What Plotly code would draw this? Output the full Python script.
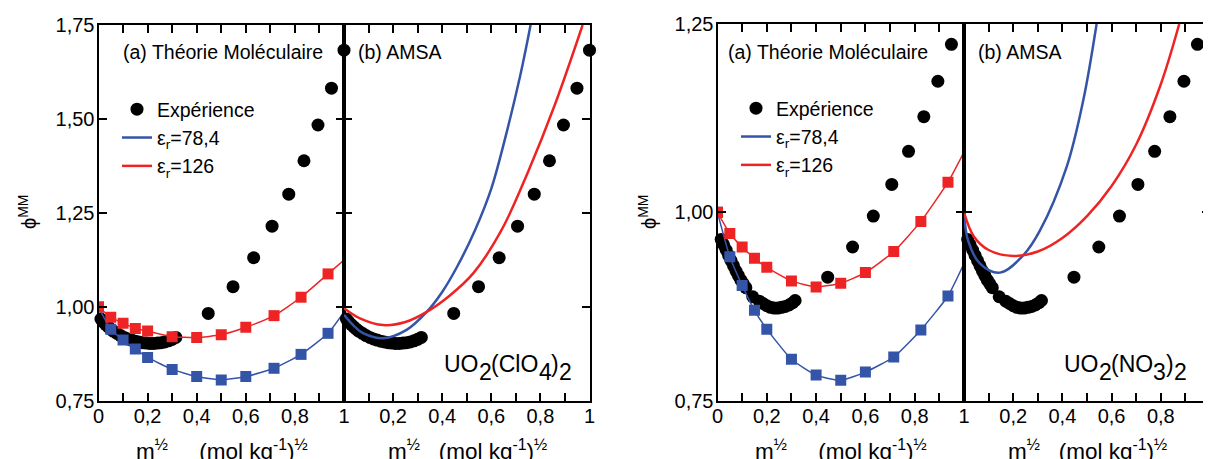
import plotly.graph_objects as go

# ---------------- data ----------------
# UO2(ClO4)2 : experimental osmotic coefficients
clo4_exp_x = [0.010, 0.020, 0.030, 0.040, 0.050, 0.060, 0.075, 0.090, 0.105, 0.120, 0.135,
              0.150, 0.165, 0.180, 0.195, 0.210, 0.225, 0.240, 0.255, 0.270, 0.285, 0.300, 0.315,
              0.447, 0.548, 0.632, 0.707, 0.775, 0.837, 0.894, 0.949, 1.000]
clo4_exp_y = [0.968, 0.960, 0.953, 0.947, 0.941, 0.936, 0.930, 0.924, 0.919, 0.915, 0.912,
              0.909, 0.907, 0.905, 0.904, 0.903, 0.903, 0.904, 0.905, 0.907, 0.910, 0.914, 0.919,
              0.983, 1.054, 1.131, 1.215, 1.300, 1.389, 1.484, 1.582, 1.683]

# molecular theory (squares), same abscissae for both salts
mt_x = [0, 0.05, 0.10, 0.15, 0.20, 0.30, 0.40, 0.50, 0.60, 0.715, 0.825, 0.935]
clo4_mt_784 = [1.000, 0.941, 0.912, 0.888, 0.866, 0.834, 0.815, 0.806, 0.815, 0.837, 0.874, 0.930]
clo4_mt_126 = [1.000, 0.973, 0.957, 0.943, 0.936, 0.921, 0.919, 0.926, 0.946, 0.977, 1.026, 1.088]
# the theory lines continue to the right edge of panel (a)
mt_end_x = 1.0
clo4_mt_784_end = 0.987
clo4_mt_126_end = 1.125

# AMSA curves
clo4_amsa784_x = [0, 0.04, 0.08, 0.16, 0.255, 0.337, 0.40, 0.459, 0.534, 0.60, 0.649, 0.717, 0.76]
clo4_amsa784_y = [0.979, 0.950, 0.930, 0.917, 0.939, 0.987, 1.040, 1.105, 1.205, 1.315, 1.430, 1.613, 1.75]
clo4_amsa126_x = [0, 0.065, 0.16, 0.25, 0.337, 0.43, 0.527, 0.642, 0.75, 0.86, 0.972]
clo4_amsa126_y = [0.997, 0.970, 0.952, 0.960, 0.987, 1.030, 1.090, 1.205, 1.360, 1.540, 1.75]

# UO2(NO3)2
no3_exp_x = [0.015, 0.025, 0.035, 0.045, 0.055, 0.065, 0.075, 0.085, 0.095, 0.105, 0.115,
             0.143, 0.170, 0.185, 0.200, 0.215, 0.230, 0.245, 0.260, 0.275, 0.290, 0.305, 0.315,
             0.447, 0.548, 0.632, 0.707, 0.775, 0.837, 0.894, 0.949]
no3_exp_y = [0.964, 0.957, 0.950, 0.943, 0.936, 0.929, 0.922, 0.916, 0.910, 0.905, 0.900,
             0.888, 0.882, 0.879, 0.876, 0.874, 0.873, 0.873, 0.874, 0.875, 0.877, 0.880, 0.883,
             0.914, 0.954, 0.995, 1.037, 1.081, 1.127, 1.174, 1.223]
no3_mt_784 = [1.000, 0.941, 0.903, 0.870, 0.845, 0.805, 0.784, 0.777, 0.788, 0.808, 0.844, 0.889]
no3_mt_126 = [1.000, 0.972, 0.954, 0.939, 0.927, 0.909, 0.901, 0.906, 0.920, 0.948, 0.988, 1.040]
no3_mt_784_end = 0.932
no3_mt_126_end = 1.080

no3_amsa784_x = [0, 0.017, 0.065, 0.146, 0.241, 0.309, 0.417, 0.485, 0.539]
no3_amsa784_y = [1.000, 0.962, 0.932, 0.920, 0.943, 0.976, 1.060, 1.149, 1.25]
no3_amsa126_x = [0, 0.04, 0.10, 0.20, 0.30, 0.40, 0.50, 0.60, 0.70, 0.80, 0.875]
no3_amsa126_y = [1.000, 0.968, 0.950, 0.942, 0.948, 0.966, 0.995, 1.035, 1.090, 1.170, 1.25]

x_ticks = [i / 10 for i in range(11)]
x_labels_a = ["0", "", "0,2", "", "0,4", "", "0,6", "", "0,8", "", "1"]
x_labels_b = ["", "", "0,2", "", "0,4", "", "0,6", "", "0,8", "", "1"]
y_ticks_clo4 = [0.75, 1.00, 1.25, 1.50, 1.75]
y_labels_clo4 = ["0,75", "1,00", "1,25", "1,50", "1,75"]
y_ticks_no3 = [0.75, 1.00, 1.25]
y_labels_no3 = ["0,75", "1,00", "1,25"]

# ---------------- styling ----------------
# the page body has an 8px margin, so the figure is made 8px smaller and
# every page-pixel position below is converted with that offset
OFF = 8
W, H = 1211 - OFF, 459 - OFF
FONT = "Liberation Sans, Arial, Helvetica, sans-serif"
BLUE = "#3454a8"
RED = "#ee2424"
EXP_SIZE = 13
SQ_SIZE = 11


def px(v):
    return (v - OFF) / W


def py(v):
    return 1 - (v - OFF) / H


fig = go.Figure()


def add_panel_set(xa, ya, xb, yb, ex, ey, mt784, mt126, end784, end126,
                  a784x, a784y, a126x, a126y, legend):
    # panel (a): experiment + molecular theory
    fig.add_trace(go.Scatter(x=ex, y=ey, mode="markers", xaxis=xa, yaxis=ya,
                             marker=dict(color="black", size=EXP_SIZE, symbol="circle", opacity=1),
                             cliponaxis=False, name="Expérience", legend=legend, showlegend=True))
    for vals, end, col in ((mt784, end784, BLUE), (mt126, end126, RED)):
        fig.add_trace(go.Scatter(x=mt_x + [mt_end_x], y=vals + [end], mode="lines",
                                 xaxis=xa, yaxis=ya,
                                 line=dict(color=col, width=1.5, shape="spline", smoothing=0.5),
                                 showlegend=False, legend=legend))
        fig.add_trace(go.Scatter(x=mt_x, y=vals, mode="markers", xaxis=xa, yaxis=ya,
                                 marker=dict(color=col, size=SQ_SIZE, symbol="square", opacity=1,
                                             line=dict(width=0)),
                                 showlegend=False, legend=legend))
    # panel (b): experiment + AMSA
    fig.add_trace(go.Scatter(x=ex, y=ey, mode="markers", xaxis=xb, yaxis=yb,
                             marker=dict(color="black", size=EXP_SIZE, symbol="circle", opacity=1),
                             cliponaxis=False, showlegend=False, legend=legend))
    fig.add_trace(go.Scatter(x=a784x, y=a784y, mode="lines", xaxis=xb, yaxis=yb,
                             line=dict(color=BLUE, width=2.5, shape="spline"),
                             name="ε<sub>r</sub>=78,4", legend=legend, showlegend=True))
    fig.add_trace(go.Scatter(x=a126x, y=a126y, mode="lines", xaxis=xb, yaxis=yb,
                             line=dict(color=RED, width=2.5, shape="spline"),
                             name="ε<sub>r</sub>=126", legend=legend, showlegend=True))


add_panel_set("x", "y", "x2", "y2", clo4_exp_x, clo4_exp_y, clo4_mt_784, clo4_mt_126,
              clo4_mt_784_end, clo4_mt_126_end,
              clo4_amsa784_x, clo4_amsa784_y, clo4_amsa126_x, clo4_amsa126_y, "legend")
add_panel_set("x3", "y3", "x4", "y4", no3_exp_x, no3_exp_y, no3_mt_784, no3_mt_126,
              no3_mt_784_end, no3_mt_126_end,
              no3_amsa784_x, no3_amsa784_y, no3_amsa126_x, no3_amsa126_y, "legend2")

common_axis = dict(showline=True, linewidth=2, linecolor="black", mirror="ticks",
                   ticks="inside", ticklen=8, tickwidth=1.5, tickcolor="black",
                   showgrid=False, zeroline=False, fixedrange=True, automargin=False,
                   tickfont=dict(family=FONT, size=20, color="black"))

xdom = {
    "xaxis": ([px(98.5), px(344)], "y", x_labels_a),
    "xaxis2": ([px(344), px(589.5)], "y2", x_labels_b),
    "xaxis3": ([px(717.5), px(964)], "y3", x_labels_a),
    "xaxis4": ([px(964), px(1210)], "y4", x_labels_b),
}
for name, (dom, anchor, labels) in xdom.items():
    fig.layout[name] = dict(domain=dom, anchor=anchor, range=[0, 1], ticklabelstandoff=-4,
                            tickmode="array", tickvals=x_ticks, ticktext=labels, **common_axis)

ydom_l = [py(401), py(25)]
ydom_r = [py(400.7), py(24)]
fig.layout["yaxis"] = dict(domain=ydom_l, anchor="x", range=[0.75, 1.75], tickmode="array",
                           ticklabelstandoff=-2,
                           tickvals=y_ticks_clo4, ticktext=y_labels_clo4, **common_axis)
fig.layout["yaxis2"] = dict(domain=ydom_l, anchor="x2", range=[0.75, 1.75], tickmode="array",
                            tickvals=y_ticks_clo4, showticklabels=False, **common_axis)
fig.layout["yaxis3"] = dict(domain=ydom_r, anchor="x3", range=[0.75, 1.25], tickmode="array",
                            ticklabelstandoff=-2,
                            tickvals=y_ticks_no3, ticktext=y_labels_no3, **common_axis)
fig.layout["yaxis4"] = dict(domain=ydom_r, anchor="x4", range=[0.75, 1.25], tickmode="array",
                            tickvals=y_ticks_no3, showticklabels=False, **common_axis)

legend_style = dict(bgcolor="rgba(0,0,0,0)", borderwidth=0,
                    font=dict(family=FONT, size=19.5, color="black"),
                    xanchor="left", yanchor="top", tracegroupgap=0, itemsizing="trace")
fig.update_layout(
    legend=dict(x=px(117), y=py(90), **legend_style),
    legend2=dict(x=px(736), y=py(89), **legend_style),
)

ann = []


def text(x, y, s, size=19.5, xanchor="left", angle=0):
    ann.append(dict(x=px(x), y=py(y), xref="paper", yref="paper", text=s, showarrow=False,
                    xanchor=xanchor, yanchor="middle", textangle=angle,
                    font=dict(family=FONT, size=size, color="black")))


text(120.5, 52, "(a) Théorie Moléculaire")
text(356, 52, "(b) AMSA")
text(726, 52, "(a) Théorie Moléculaire")
text(976, 52, "(b) AMSA")

# chemical formulas with full-size, lowered subscripts (Liberation Sans = Arial metrics)
FS = 23
ADV = {"U": 0.722, "O": 0.778, "(": 0.333, ")": 0.333, "C": 0.722, "l": 0.222,
       "N": 0.722, "2": 0.556, "3": 0.556, "4": 0.556}


def formula(x0, y_main, pieces):
    x = x0
    for s, sub in pieces:
        text(x, y_main + (8 if sub else 0), s, size=FS)
        x += sum(ADV[c] for c in s) * FS


formula(442, 364, [("UO", False), ("2", True), ("(ClO", False), ("4", True), (")", False), ("2", True)])
formula(1062, 364, [("UO", False), ("2", True), ("(NO", False), ("3", True), (")", False), ("2", True)])

NB = "\u00a0"
xt_a = "m<sup>½</sup>" + NB * 5 + "(mol kg<sup>-1</sup>)<sup>½</sup>"
xt_b = "m<sup>½</sup>" + NB * 3 + "(mol kg<sup>-1</sup>)<sup>½</sup>"
XT = 22.5
text(222, 450, xt_a, size=XT, xanchor="center")
text(467, 450, xt_b, size=XT, xanchor="center")
text(841, 450, xt_a, size=XT, xanchor="center")
text(1087, 450, xt_b, size=XT, xanchor="center")

text(27, 212, "ϕ<sup>MM</sup>", size=20, xanchor="center", angle=-90)
text(647, 212, "ϕ<sup>MM</sup>", size=20, xanchor="center", angle=-90)

fig.update_layout(
    width=W, height=H, margin=dict(l=0, r=0, t=0, b=0, pad=0),
    paper_bgcolor="white", plot_bgcolor="white",
    font=dict(family=FONT, size=20, color="black"),
    separators=", ",
    annotations=ann,
)

fig.write_html("out.html")
